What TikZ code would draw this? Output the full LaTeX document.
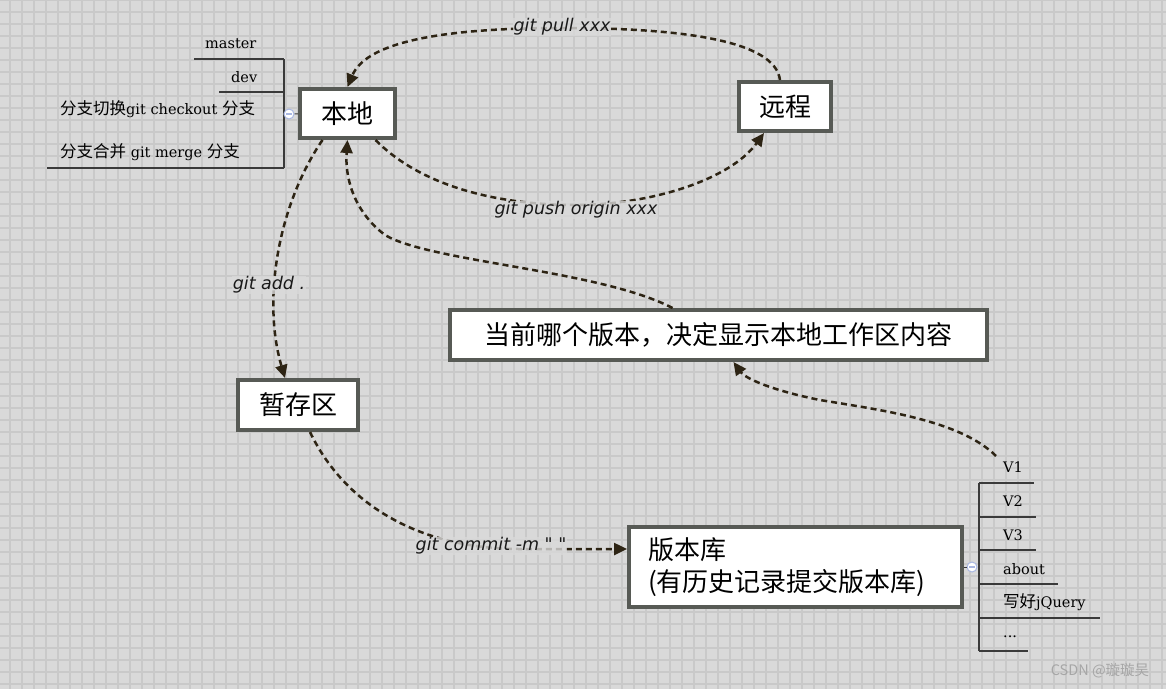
\documentclass[tikz,border=0pt]{standalone}
\usepackage{fontspec}
\usepackage{xcolor}
\usepackage{tikz}
\usetikzlibrary{arrows.meta, positioning, calc}

\setmainfont{DejaVu Serif}
\newfontfamily\cjk{Noto Sans CJK SC}
\newfontfamily\cmdfont{DejaVu Sans}
\newcommand{\zh}[1]{{\cjk\fontsize{16.5}{18}\selectfont #1}}

\definecolor{bgcol}{HTML}{D9D9D9}
\definecolor{gridcol}{HTML}{C9C9C9}
\definecolor{boxline}{HTML}{575A55}
\definecolor{flowcol}{HTML}{2D2414}
\definecolor{treeline}{HTML}{3A3A3A}
\definecolor{knobcol}{HTML}{A9B7E2}

\begin{document}
\begin{tikzpicture}[x=1pt, y=-1pt,
    area/.style={draw=boxline, line width=4pt, fill=white, inner sep=0pt, font=\cjk\fontsize{26}{32}\selectfont},
    flow/.style={draw=flowcol, line width=2.5pt, dash pattern=on 6pt off 4pt, -{Triangle[length=13pt,width=12pt]}},
    cmd/.style={font=\cmdfont\itshape\fontsize{17.5}{20}\selectfont, text=black!90, fill=bgcol, fill opacity=0.8, text opacity=1, inner sep=1pt},
    item/.style={anchor=west, inner sep=0pt, font=\fontsize{14.5}{17}\selectfont},
    knob/.style={circle, draw=knobcol, fill=white, line width=1pt, minimum size=10pt, inner sep=0pt}
]
    \useasboundingbox (0,0) rectangle (1166,689);

    % Background grid
    \fill[bgcol] (0,0) rectangle (1166,689);
    \foreach \x in {10,22,...,1162}
        \draw[gridcol, line width=1.3pt] (\x,0) -- (\x,689);
    \foreach \y in {0,12,...,684}
        \draw[gridcol, line width=1.3pt] (0,\y) -- (1166,\y);

    % Areas
    \node[area, minimum width=95pt, minimum height=49pt] (local) at (347.5,113.5) {本地};
    \node[area, minimum width=92pt, minimum height=49pt] (remote) at (785,106.5) {远程};
    \node[area, minimum width=120pt, minimum height=50pt] (stage) at (298,405) {暂存区};
    \node[area, minimum width=537pt, minimum height=50pt] (current) at (718.5,335) {当前哪个版本，决定显示本地工作区内容};
    \node[area, minimum width=333pt, minimum height=80pt, text width=295pt, align=left, inner xsep=19pt] (repo) at (795.5,567) {版本库\\(有历史记录提交版本库)};

    % Branch list
    \node[item] (master) at (205,44) {master};
    \node[item] (dev) at (231,77) {dev};
    \node[item] (checkout) at (60,109) {\zh{分支切换}git checkout \zh{分支}};
    \node[item] (merge) at (60,152) {\zh{分支合并} git merge \zh{分支}};
    \draw[treeline, line width=1.5pt] (194,59) -- (284,59) (219,92) -- (284,92) (47,168) -- (284,168) (284,59) -- (284,168);
    \node[knob] (knobL) at (289,114) {};
    \draw[treeline, line width=1pt] (knobL) -- (local);
    \draw[knobcol, line width=1.2pt] ([xshift=-3pt]knobL.center) -- ([xshift=3pt]knobL.center);

    % Version list
    \node[item] (v1) at (1003,467) {V1};
    \node[item] (v2) at (1003,501) {V2};
    \node[item] (v3) at (1003,535) {V3};
    \node[item] (about) at (1003,569) {about};
    \node[item] (jq) at (1003,602) {\zh{写好}jQuery};
    \node[item] (more) at (1003,637) {...};
    \draw[treeline, line width=1.5pt] (979,483) -- (1034,483) (979,517) -- (1036,517) (979,550) -- (1036,550)
        (979,584) -- (1058,584) (979,618) -- (1100,618) (979,651) -- (1028,651) (979,483) -- (979,651);
    \node[knob] (knobR) at (972,567) {};
    \draw[treeline, line width=1pt] (knobR) -- (repo);
    \draw[knobcol, line width=1.2pt] ([xshift=-3pt]knobR.center) -- ([xshift=3pt]knobR.center);

    % Flows
    \coordinate (vstart) at (996,456);
    \draw[flow] ([xshift=-5pt]remote.north) .. controls (775,40) and (680,28) .. (562,28) .. controls (430,28) and (365,45) .. (local.north);
    \draw[flow] ([xshift=28pt]local.south) .. controls (430,195) and (520,205) .. (575,205) .. controls (650,205) and (730,180) .. ([xshift=-21pt]remote.south);
    \draw[flow] ([xshift=-25pt]local.south) .. controls (278,205) and (262,300) .. ([xshift=-13pt]stage.north);
    \draw[flow] ([xshift=12pt]stage.south) .. controls (345,505) and (420,549) .. (520,549) -- ([yshift=18pt]repo.west);
    \draw[flow] ([xshift=-46pt]current.north) .. controls (600,270) and (430,262) .. (385,235) .. controls (352,210) and (345,175) .. (local.south);
    \draw[flow] (vstart) .. controls (960,420) and (880,410) .. (820,400) .. controls (770,390) and (745,378) .. ([xshift=15pt]current.south);

    % Commands
    \node[cmd] (pull) at (562,27) {git pull xxx};
    \node[cmd] (push) at (576,210) {git push origin xxx};
    \node[cmd] (add) at (269,285) {git add .};
    \node[cmd] (commit) at (491,546) {git commit -m " "};

    % Watermark
    \node[font=\cjk\fontsize{14.5}{16}\selectfont, text=gray!70] (mark) at (1100,671) {CSDN @璇璇吴};
\end{tikzpicture}
\end{document}
